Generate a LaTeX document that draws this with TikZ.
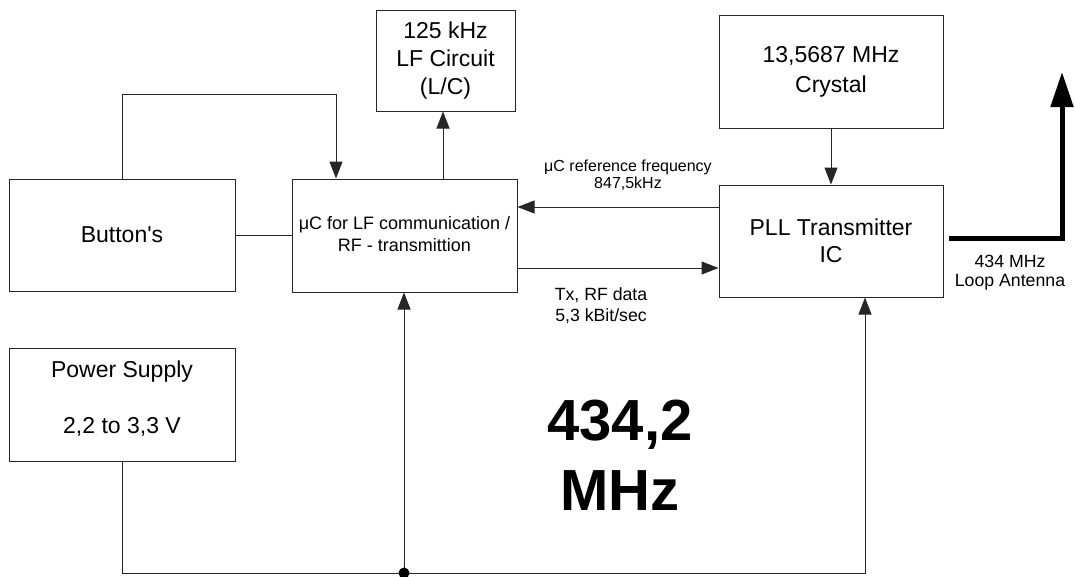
\documentclass[tikz,border=0pt]{standalone}
\usepackage{fontspec}
\setmainfont{Liberation Sans}
\usetikzlibrary{arrows.meta}
\begin{document}
\begin{tikzpicture}[x=1pt,y=-1pt,
  box/.style={draw=black!85, line width=1pt, rectangle, inner sep=0pt, align=center,
    font=\fontsize{23}{28}\selectfont},
  wire/.style={draw=black!85, line width=1pt},
  arr/.style={wire, -{Triangle[length=17pt,width=13pt]}},
  lbl/.style={inner sep=0pt, align=center}]
\useasboundingbox (0,0) rectangle (1075,576);
\fill[white] (0,0) rectangle (1075,576);

\node[box, minimum width=139pt, minimum height=101pt] (lf) at (445.5,60.5) {125 kHz\\LF Circuit\\(L/C)};
\node[box, minimum width=225pt, minimum height=113pt, font=\fontsize{18}{25}\selectfont] (uc) at (404.5,235.5) {\raisebox{3pt}{\shortstack{μC for LF communication /\\[2pt]RF - transmittion}}};
\node[box, minimum width=226pt, minimum height=112pt] (btn) at (122,235) {Button\textquotesingle s};
\node[box, minimum width=224pt, minimum height=112pt, font=\fontsize{23}{27}\selectfont] (pll) at (831,241) {PLL Transmitter\\IC};
\node[box, minimum width=224pt, minimum height=113pt, font=\fontsize{23}{30}\selectfont] (xtal) at (831,71.5) {13,5687 MHz\\Crystal};
\node[box, minimum width=226pt, minimum height=113pt] (ps) at (122,404.5) {};
\node[lbl, font=\fontsize{23}{28}\selectfont] (pst) at (122,398.5) {Power Supply\\[28pt]2,2 to 3,3 V};

% coordinates
\coordinate (fb) at (336,94);
\coordinate (refy) at (0,207);
\coordinate (txy) at (0,268);
\coordinate (anty) at (0,238);
\coordinate (tip) at (1062,72);
\coordinate (busR) at (865,573);
\coordinate (junc) at (404,573);

% connectors
\draw[arr] (uc.north -| 443,0) -- (lf.south -| 443,0);
\draw[arr] (btn.north) |- (fb) -- (fb |- uc.north);
\draw[wire] (btn.east) -- (uc.west |- btn.east);
\draw[arr] (pll.west |- refy) -- (uc.east |- refy);
\draw[arr] (uc.east |- txy) -- (pll.west |- txy);
\draw[arr] (xtal.south) -- (pll.north);
\draw[line width=5pt, -{Triangle[length=35pt,width=22pt]}] ([xshift=5pt]pll.east |- anty) -| (tip);
\draw[arr] (ps.south) |- (busR) -- (busR |- pll.south);
\draw[arr] (junc) -- (uc.south -| junc);
\fill (junc) circle (5.5pt);

% labels
\node[lbl, font=\fontsize{16}{17}\selectfont] (reflbl) at (628,175) {μC reference frequency\\847,5kHz};
\node[lbl, font=\fontsize{17.7}{21}\selectfont] (txlbl) at (601,306) {Tx, RF data\\5,3 kBit/sec};
\node[lbl, font=\fontsize{17.7}{19}\selectfont] (antlbl) at (1010,272.5) {434 MHz\\Loop Antenna};
\node[lbl, font=\fontsize{58}{70}\selectfont\bfseries] (big) at (620,455) {434,2\\MHz};
\end{tikzpicture}
\end{document}
